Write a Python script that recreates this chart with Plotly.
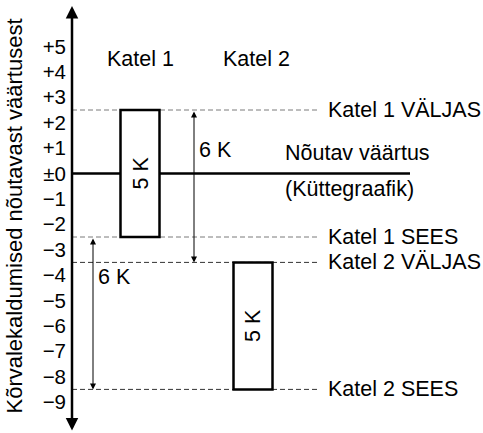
import plotly.graph_objects as go

# ---------------- data ----------------
tick_values = [5, 4, 3, 2, 1, 0, -1, -2, -3, -4, -5, -6, -7, -8, -9]
tick_labels = ['+5', '+4', '+3', '+2', '+1', '±0', '−1', '−2', '−3',
               '−4', '−5', '−6', '−7', '−8', '−9']
boilers = ['Katel 1', 'Katel 2']
boiler_off = [2.5, -3.5]      # VÄLJAS thresholds
boiler_on = [-2.5, -8.5]      # SEES thresholds
off_labels = ['Katel 1 VÄLJAS', 'Katel 2 VÄLJAS']
on_labels = ['Katel 1 SEES', 'Katel 2 SEES']
setpoint = 0
setpoint_labels = ['Nõutav väärtus', '(Küttegraafik)']
y_title = 'Kõrvalekaldumised nõutavast väärtusest'

# ---------------- layout constants (pixels) ----------------
W, H = 483, 433
FONT = 'Liberation Sans, Arial, Helvetica, sans-serif'
FS = 21.5
AXIS_X = 72
BOX_CX = [140, 253]
BOX_HALF = 19.5
DASH_END = 320
SET_END = 410
LABEL_X = 326
SET_LABEL_X = 283
GAP_X = [194, 93]
GAP_LABEL_X = [197, 96]
Y_ZERO_PX = 173.5
PX_PER_UNIT = 25.4
y_top = Y_ZERO_PX / PX_PER_UNIT
y_bot = -(H - Y_ZERO_PX) / PX_PER_UNIT

fig = go.Figure()
fig.add_trace(go.Scatter(x=[None], y=[None], showlegend=False, hoverinfo='skip'))

shapes = []
annotations = []

# dashed threshold lines
dash_colors = ['#7a7a7a', '#333333']
for i in range(len(boilers)):
    for lvl in (boiler_off[i], boiler_on[i]):
        shapes.append(dict(type='line', xref='x', yref='y', x0=AXIS_X, x1=DASH_END,
                           y0=lvl, y1=lvl,
                           line=dict(color=dash_colors[i], width=1, dash='5px,3px')))
# setpoint line
shapes.append(dict(type='line', xref='x', yref='y', x0=AXIS_X, x1=SET_END,
                   y0=setpoint, y1=setpoint, line=dict(color='black', width=2.5)))
# boiler boxes
for i in range(len(boilers)):
    shapes.append(dict(type='rect', xref='x', yref='y',
                       x0=BOX_CX[i] - BOX_HALF, x1=BOX_CX[i] + BOX_HALF,
                       y0=boiler_on[i], y1=boiler_off[i],
                       fillcolor='white', line=dict(color='black', width=2.5)))
    annotations.append(dict(x=BOX_CX[i], y=(boiler_on[i] + boiler_off[i]) / 2,
                            xref='x', yref='y', showarrow=False, textangle=-90,
                            text=f'{boiler_off[i] - boiler_on[i]:g} K',
                            font=dict(size=FS, color='black')))
    # header
    annotations.append(dict(x=BOX_CX[i] + (3 if i else 0), y=1 - 45 / H, xref='x', yref='paper',
                            showarrow=False, text=boilers[i],
                            font=dict(size=FS, color='black')))
    # threshold labels
    annotations.append(dict(x=LABEL_X, y=boiler_off[i], xref='x', yref='y',
                            xanchor='left', showarrow=False, text=off_labels[i],
                            font=dict(size=FS, color='black')))
    annotations.append(dict(x=LABEL_X, y=boiler_on[i], xref='x', yref='y',
                            xanchor='left', showarrow=False, text=on_labels[i],
                            font=dict(size=FS, color='black')))

# gap arrows (between corresponding thresholds of boiler 1 and 2)
gap_pairs = [(boiler_off[0], boiler_off[1]), (boiler_on[0], boiler_on[1])]
for k, (a, b) in enumerate(gap_pairs):
    annotations.append(dict(x=GAP_X[k], y=b, ax=GAP_X[k], ay=a, xref='x', yref='y',
                            axref='x', ayref='y', text='', showarrow=True,
                            arrowhead=2, startarrowhead=2, arrowside='end+start',
                            arrowwidth=1, arrowsize=1.2, startarrowsize=1.2,
                            arrowcolor='black', standoff=0, startstandoff=0))
    annotations.append(dict(x=GAP_LABEL_X[k], y=a, xref='x', yref='y', yshift=-40,
                            xanchor='left', showarrow=False, text=f'{a - b:g} K',
                            font=dict(size=FS, color='black')))

# setpoint labels
annotations.append(dict(x=SET_LABEL_X, y=setpoint, xref='x', yref='y', yshift=21,
                        xanchor='left', showarrow=False, text=setpoint_labels[0],
                        font=dict(size=FS, color='black')))
annotations.append(dict(x=SET_LABEL_X, y=setpoint, xref='x', yref='y', yshift=-15,
                        xanchor='left', showarrow=False, text=setpoint_labels[1],
                        font=dict(size=FS, color='black')))

# vertical axis arrow
annotations.append(dict(x=AXIS_X, y=1 - 6 / H, xref='x', yref='paper',
                        ax=0, ay=H - 7, axref='pixel', ayref='pixel', text='',
                        showarrow=True, arrowhead=2, startarrowhead=2, arrowside='end+start',
                        arrowwidth=2.5, arrowsize=1.0, startarrowsize=1.0,
                        arrowcolor='black', standoff=0, startstandoff=0))

# y title
annotations.append(dict(x=14, y=0.5, xref='x', yref='paper', showarrow=False,
                        textangle=-90, text=y_title, font=dict(size=22, color='black')))

fig.update_layout(
    width=W, height=H,
    margin=dict(l=0, r=0, t=0, b=0, pad=0),
    paper_bgcolor='white', plot_bgcolor='white',
    font=dict(family=FONT, size=FS, color='black'),
    showlegend=False,
    shapes=shapes, annotations=annotations,
    xaxis=dict(range=[0, W], visible=False, domain=[0, 1], fixedrange=True),
    yaxis=dict(range=[y_bot, y_top], anchor='free', position=AXIS_X / W,
               tickvals=tick_values, ticktext=tick_labels, ticks='',
               showline=False, showgrid=False, zeroline=False,
               ticklabelstandoff=6,
               tickfont=dict(size=20.5, color='black', family=FONT), fixedrange=True),
)

fig.write_html('out.html',
               config={'displayModeBar': False},
               post_script="document.body.style.margin='0';document.body.style.padding='0';")
